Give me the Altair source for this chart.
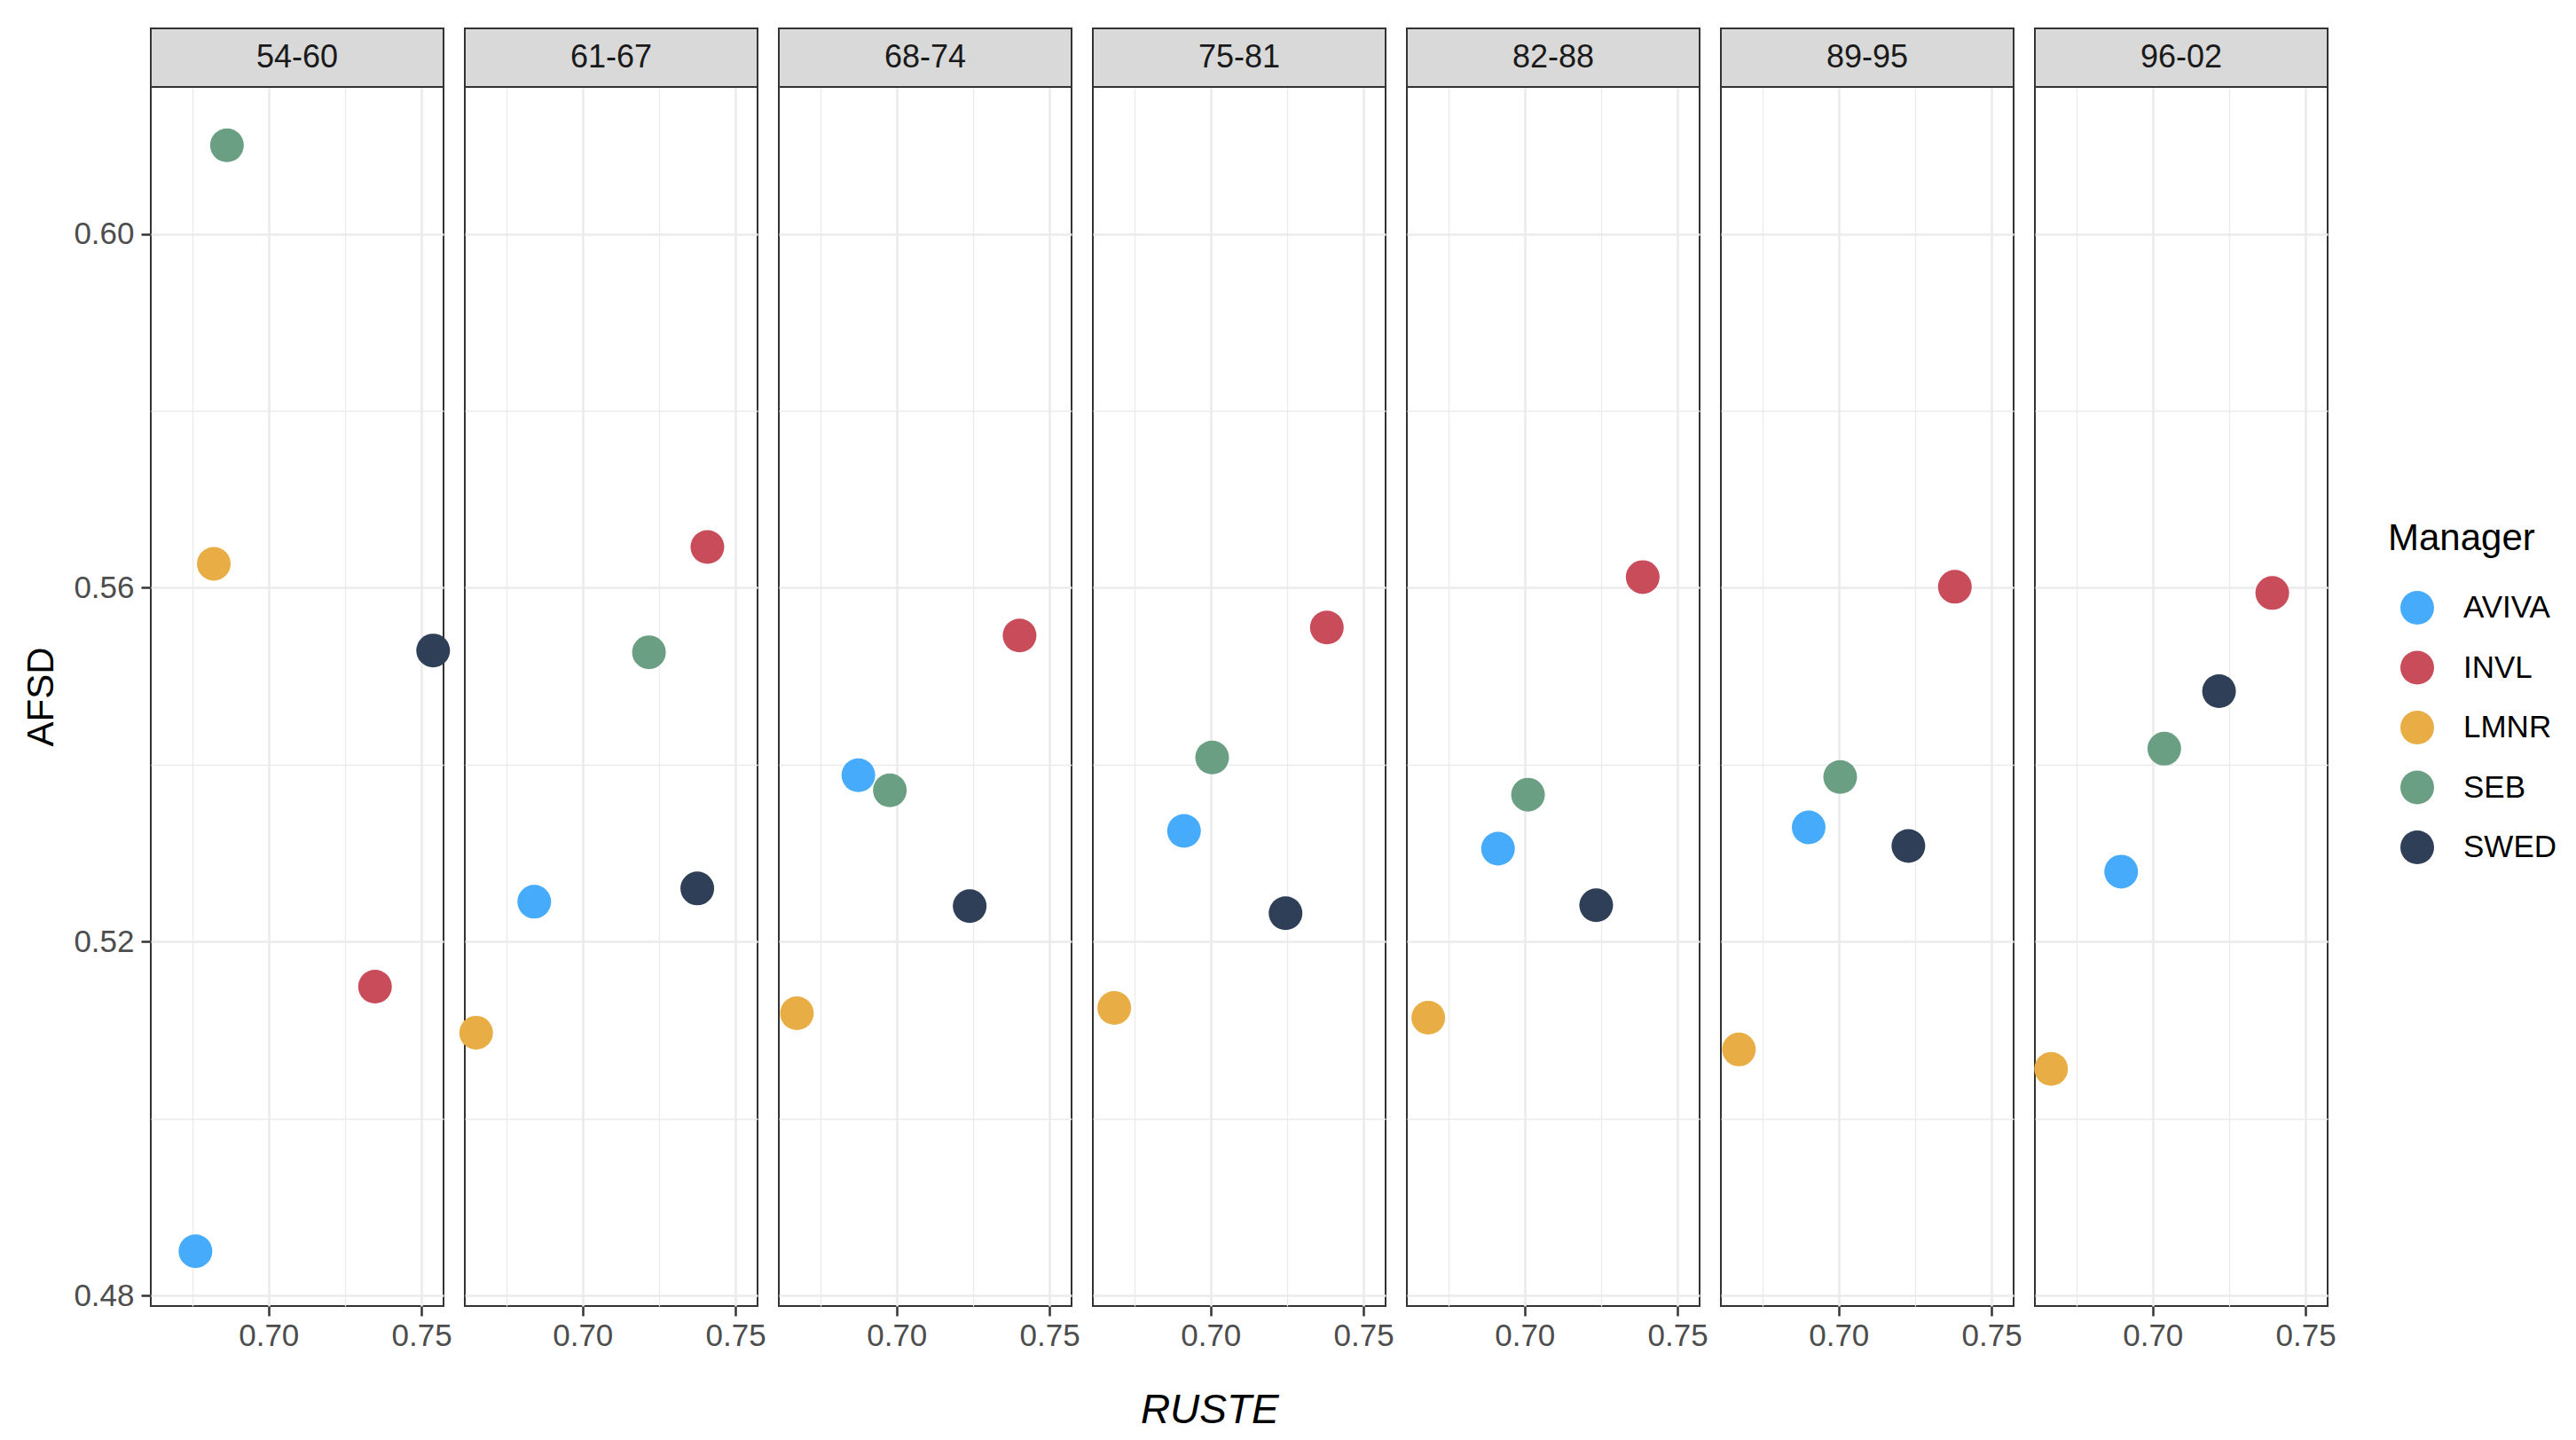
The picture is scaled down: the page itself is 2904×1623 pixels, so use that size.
import altair as alt
import pandas as pd

periods = ["54-60", "61-67", "68-74", "75-81", "82-88", "89-95", "96-02"]
managers = ["AVIVA", "INVL", "LMNR", "SEB", "SWED"]
colors = ["#46ABFB", "#C84C5A", "#E8AE45", "#6B9F83", "#2F3F57"]

aviva_x = [0.6761, 0.6842, 0.6875, 0.6913, 0.6913, 0.6902, 0.6897]
aviva_y = [0.4850, 0.5245, 0.5388, 0.5325, 0.5305, 0.5329, 0.5279]
invl_x = [0.7348, 0.7408, 0.7402, 0.7380, 0.7386, 0.7380, 0.7391]
invl_y = [0.5149, 0.5646, 0.5546, 0.5555, 0.5612, 0.5601, 0.5594]
lmnr_x = [0.6821, 0.6652, 0.6674, 0.6685, 0.6685, 0.6674, 0.6668]
lmnr_y = [0.5627, 0.5097, 0.5119, 0.5125, 0.5114, 0.5078, 0.5056]
seb_x = [0.6864, 0.7217, 0.6978, 0.7005, 0.7011, 0.7005, 0.7038]
seb_y = [0.6100, 0.5527, 0.5371, 0.5408, 0.5366, 0.5386, 0.5418]
swed_x = [0.7538, 0.7375, 0.7239, 0.7245, 0.7234, 0.7228, 0.7217]
swed_y = [0.5529, 0.5260, 0.5240, 0.5232, 0.5241, 0.5308, 0.5483]

x_ticks = [0.675, 0.70, 0.725, 0.75]
y_ticks = [0.48, 0.50, 0.52, 0.54, 0.56, 0.58, 0.60]

rows = []
for m, xs, ys in zip(managers,
                     [aviva_x, invl_x, lmnr_x, seb_x, swed_x],
                     [aviva_y, invl_y, lmnr_y, seb_y, swed_y]):
    for p, xv, yv in zip(periods, xs, ys):
        rows.append({"Period": p, "Manager": m, "RUSTE": xv, "AFSD": yv})
df = pd.DataFrame(rows)

FONT = "Liberation Sans"
W, H = 330, 1374
STRIP = 66

xmaj = "round(datum.value*1000) % 50 == 0"
ymaj = "round(datum.value*100) % 4 == 0"

x_axis = alt.Axis(
    values=x_ticks, title=None,
    labelExpr=f"{xmaj} ? format(datum.value, '.2f') : ''",
    gridColor="#EBEBEB",
    gridWidth={"condition": {"test": xmaj, "value": 2.6}, "value": 1.3},
    tickColor={"condition": {"test": xmaj, "value": "#333333"}, "value": "transparent"},
    tickSize=11, tickWidth=2.5, labelFontSize=35, labelColor="#4D4D4D",
    labelPadding=5, domain=False, labelFont=FONT,
)
y_axis = alt.Axis(
    values=y_ticks, title="AFSD",
    labelExpr=f"{ymaj} ? format(datum.value, '.2f') : ''",
    gridColor="#EBEBEB",
    gridWidth={"condition": {"test": ymaj, "value": 2.6}, "value": 1.3},
    tickColor={"condition": {"test": ymaj, "value": "#333333"}, "value": "transparent"},
    tickSize=11, tickWidth=2.5, labelFontSize=35, labelColor="#4D4D4D",
    labelPadding=8, domain=False, labelFont=FONT,
    titleFont=FONT, titleFontSize=42, titleFontWeight="normal", titleColor="#000000",
    titlePadding=14,
)

points = alt.Chart().mark_circle(size=1444, opacity=1).encode(
    x=alt.X("RUSTE:Q", scale=alt.Scale(domain=[0.6615, 0.7572], nice=False, zero=False), axis=x_axis),
    y=alt.Y("AFSD:Q", scale=alt.Scale(domain=[0.4788, 0.6166], nice=False, zero=False), axis=y_axis),
    color=alt.Color("Manager:N", scale=alt.Scale(domain=managers, range=colors),
                    legend=alt.Legend(
                        title="Manager", orient="none", legendX=2522, legendY=489,
                        titleFont=FONT, titleFontSize=42, titleFontWeight="normal",
                        titleColor="#000000", titlePadding=37,
                        labelFont=FONT, labelFontSize=35, labelColor="#000000",
                        symbolType="circle", symbolSize=1444, symbolStrokeWidth=0,
                        symbolOffset=14, labelOffset=33, rowPadding=29.5,
                    )),
)

strip_rect = alt.Chart().mark_rect(fill="#D9D9D9", stroke="#333333", strokeWidth=2).encode(
    x=alt.value(0), x2=alt.value(W), y=alt.value(-STRIP), y2=alt.value(0)
).transform_filter(alt.datum.Manager == "AVIVA")

strip_text = alt.Chart().mark_text(fontSize=36, font=FONT, color="#1A1A1A").encode(
    x=alt.value(W / 2), y=alt.value(-STRIP / 2), text="Period:N"
).transform_filter(alt.datum.Manager == "AVIVA")

chart = alt.layer(points, strip_rect, strip_text, data=df).properties(
    width=W, height=H
).facet(
    column=alt.Column("Period:N", sort=periods, header=alt.Header(labels=False, title=None)),
    spacing=24,
    bounds="flush",
).properties(
    title=alt.TitleParams(text="RUSTE", orient="bottom", anchor="start", frame="bounds",
                          dx=1260, offset=45, font=FONT, fontSize=46, fontStyle="italic",
                          fontWeight="normal", color="#000000"),
    padding={"left": 17, "top": 22, "right": 10, "bottom": 10},
).configure_view(
    stroke="#333333", strokeWidth=2
).configure_axis(
    labelFont=FONT
)

chart.save("out.html", embed_options={"renderer": "svg", "actions": False})
